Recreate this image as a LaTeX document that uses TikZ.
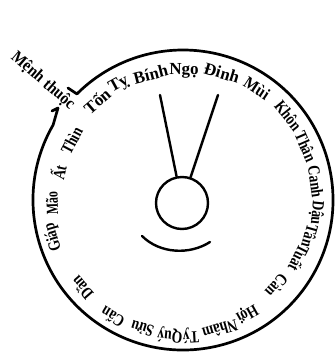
\documentclass[tikz,border=0pt]{standalone}
\usepackage{fontspec}
\setmainfont{Liberation Serif}
\begin{document}
\begin{tikzpicture}[x=1pt,y=1pt,line cap=round,line join=round,
  rim/.style={line width=2.7pt},
  stroke/.style={line width=2.4pt},
  mountain/.style={font=\fontsize{17}{17}\selectfont\bfseries,inner sep=0pt},
  tag/.style={font=\fontsize{17}{17}\selectfont\bfseries,inner sep=0pt},
  hubstyle/.style={circle,draw,line width=2.4pt,minimum size=52pt,inner sep=0pt}]
\useasboundingbox (0,0) rectangle (336,356);
\coordinate (C) at (183,156);
% outer rim with notch
\coordinate (h1) at (52,245);
\coordinate (h2) at (58,248);
\coordinate (h3) at (68,268);
\draw[rim] (h1) -- (h2) -- ([shift={(150:150)}]C) arc[start angle=150,end angle=495,radius=150] -- (h3);
% label
\node[tag,rotate=-41,xscale=0.9] (tag) at (43,275) {Mệnh thuộc};
% mountains: angle / radius / word / horizontal scale
\foreach \a/\r/\w/\s [count=\i] in {131/131/Tốn/1,119/132/Tỵ/1,104.4/130/Bính/1,89.5/129/Ngọ/1,73/133/Đinh/1,56.5/134/Mùi/0.9,38.7/135/Khôn/0.8,23.5/134/Thân/0.8,7.8/134/Canh/0.8,-5.5/134/Dậu/0.8,-15.8/132/Tân/0.8,-26.8/130/Tuất/0.8,-42.4/127/Càn/0.8,-60.5/130/Hợi/0.8,-74/135/Nhâm/0.8,-86.7/136/Tý/0.8,-95.5/136/Quý/0.8,-107.6/135/Sửu/0.8,-121/137/Cấn/0.8,-139/134/Dần/0.8,-164/135/Giáp/0.8,-178.5/131/Mão/0.7,-192.5/128/Ất/0.8,-208/126/Thìn/0.8}
  \node[mountain,rotate=\a-90,xscale=\s] (m\i) at ([shift={(\a:\r)}]C) {\w};
% center figure
\node[hubstyle] (hub) at (182,153) {};
\coordinate (vl) at (160,261);
\coordinate (vr) at (218,261);
\draw[stroke] (vl) -- (hub);
\draw[stroke] (vr) -- (hub);
\coordinate (s1) at (142,120);
\coordinate (s2) at (210,114);
\draw[stroke] (s1) .. controls (160,102) and (190,101) .. (s2);
\end{tikzpicture}
\end{document}
